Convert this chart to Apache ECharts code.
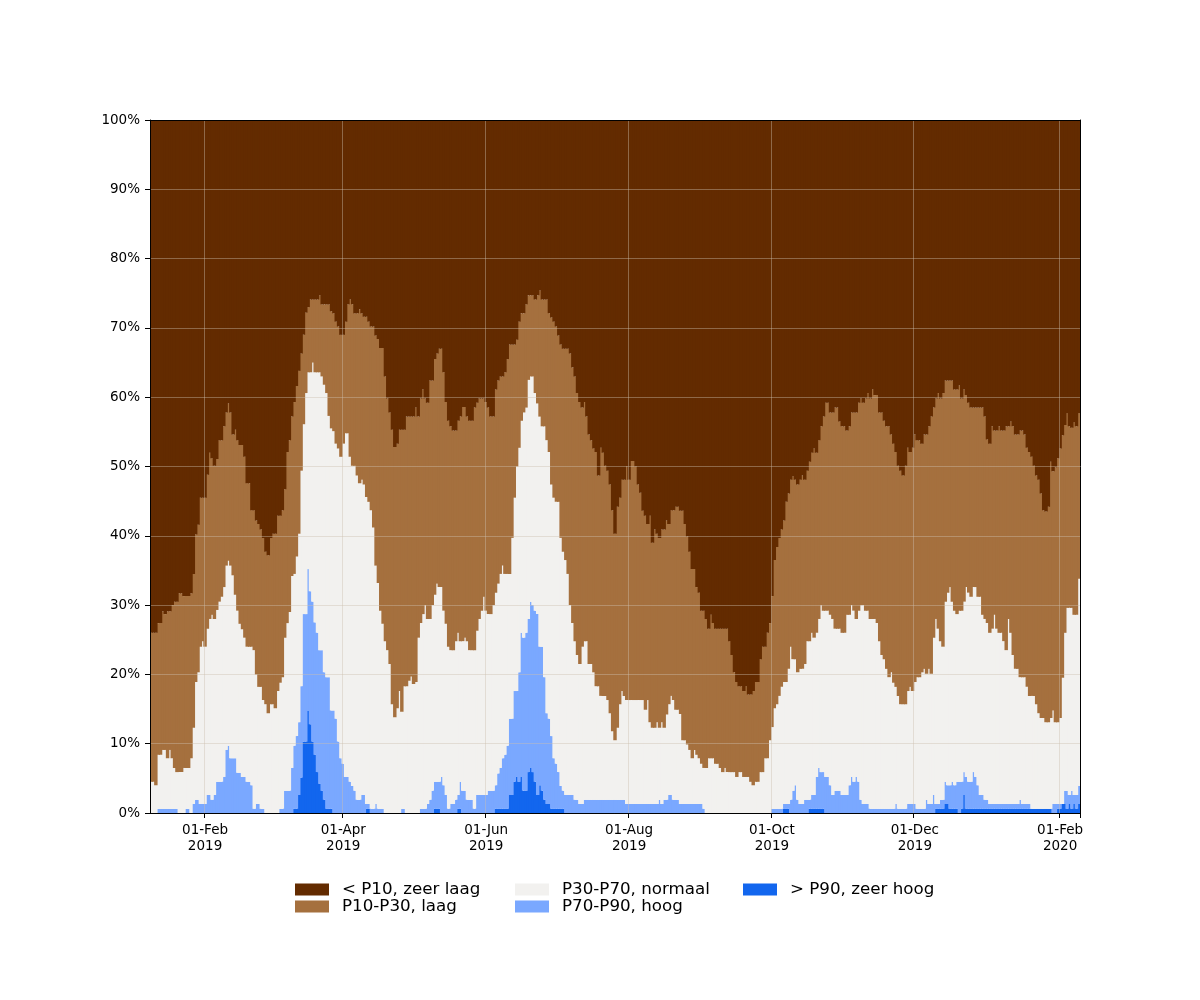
<!DOCTYPE html>
<html>
<head>
<meta charset="utf-8">
<script src="https://cdn.jsdelivr.net/npm/echarts@6/dist/echarts.min.js"></script>
<style>
html,body{margin:0;padding:0;background:#ffffff;}
#chart{width:1200px;height:1000px;}
</style>
</head>
<body>
<div id="chart"></div>
<script>
// ---- data -------------------------------------------------------------
const startDate = '2019-01-09';               // first day shown
const tickMonths = [2, 4, 6, 8, 10, 12];      // 1st of these months gets a tick label
const monthNames = ['Jan','Feb','Mar','Apr','May','Jun','Jul','Aug','Sep','Oct','Nov','Dec'];
const yTickValues = [0,10,20,30,40,50,60,70,80,90,100];

const classNames = ['< P10, zeer laag','P10-P30, laag','P30-P70, normaal','P70-P90, hoog','> P90, zeer hoog'];
const classColors = ['#632B00','#A5703E','#F2F1EF','#7AA8FF','#1266EE'];

// share of stations (%) at or above P10
const atLeastP10 = [
26.0,26.0,26.0,27.4,27.4,29.1,28.7,29.1,29.1,30.0,
30.5,30.5,31.7,31.7,31.3,31.3,31.3,31.7,34.5,40.2,
41.6,45.5,45.5,45.5,48.8,52.0,51.2,50.1,51.1,53.8,
53.8,55.8,57.8,59.1,57.8,54.6,55.3,53.8,53.1,53.1,
51.4,47.6,47.6,43.7,43.7,42.2,41.7,40.9,39.7,37.7,
37.2,39.7,40.3,40.3,42.9,42.9,43.7,46.7,52.1,53.8,
57.2,59.3,61.6,63.8,66.3,69.0,72.2,73.0,74.1,74.1,
74.1,74.1,74.7,73.4,73.4,73.4,73.4,72.4,72.1,70.9,
70.2,69.0,69.0,70.9,73.4,74.1,73.4,72.1,72.1,72.7,
72.1,71.6,71.6,70.9,70.2,70.2,68.9,68.4,67.1,67.1,
63.0,59.8,57.8,55.3,52.8,53.3,55.3,55.3,55.3,57.2,
57.2,57.2,57.2,58.5,57.2,59.8,61.1,59.8,59.2,62.4,
62.4,65.5,66.3,67.0,67.0,63.6,59.3,56.6,55.8,55.2,
55.2,56.6,57.2,58.6,58.6,57.2,56.6,56.6,58.5,59.2,
59.8,59.8,59.8,59.3,58.5,57.2,57.2,61.1,62.4,63.0,
63.0,63.6,65.5,67.6,67.6,67.6,68.3,70.9,72.1,72.1,
73.4,74.7,74.7,74.7,74.1,74.7,75.4,74.1,74.1,74.1,
72.1,71.5,70.9,70.2,68.9,67.6,67.0,67.0,67.0,66.3,
64.3,63.0,60.6,59.3,58.5,59.3,57.2,54.6,53.8,52.6,
52.1,48.7,52.7,52.0,50.1,49.4,47.4,43.7,40.3,44.2,
45.5,48.1,48.1,50.0,48.1,50.8,50.8,50.0,47.4,46.2,
43.6,42.9,41.7,42.9,39.0,40.9,40.3,39.7,40.9,40.9,
42.2,41.7,43.7,43.7,44.2,44.2,43.6,43.6,41.7,39.9,
37.7,35.2,35.2,32.6,31.8,29.2,29.2,28.0,26.6,28.6,
27.4,26.6,26.6,26.6,26.6,26.6,26.6,24.8,22.8,20.3,
18.9,18.3,18.3,17.6,18.3,17.1,17.1,17.6,18.9,18.9,
22.2,24.0,24.0,26.0,27.4,31.3,36.5,38.4,39.7,40.9,
42.2,44.9,46.1,48.1,48.6,48.1,47.4,48.1,48.7,48.1,
49.4,50.7,52.0,52.6,52.0,53.8,55.8,57.2,59.2,59.2,
57.8,57.8,58.5,58.5,56.5,55.8,55.8,55.2,55.8,57.8,
57.8,57.8,59.2,59.8,59.2,59.8,60.6,59.8,61.1,60.3,
60.3,57.8,57.8,56.6,55.8,55.8,54.6,53.3,52.1,50.1,
49.4,48.7,50.1,52.7,52.1,52.7,54.6,53.8,53.8,53.3,
54.6,54.6,55.8,57.2,58.5,59.8,60.6,59.8,60.6,62.4,
62.4,62.4,62.4,61.1,61.1,61.7,59.8,61.1,60.3,59.2,
58.5,58.5,58.5,58.5,58.5,58.5,57.2,53.9,53.3,55.8,
55.2,55.2,55.8,55.2,55.2,55.8,55.8,56.5,55.8,54.6,
54.6,55.2,55.2,54.6,52.7,52.1,51.4,50.1,48.7,48.1,
46.1,43.7,43.5,44.2,50.7,49.3,49.9,51.2,52.6,54.5,
56.0,57.7,55.8,55.6,56.4,55.8,57.7
];

// share of stations (%) at or above P30
const atLeastP30 = [
4.5,4.5,4.0,8.4,8.4,9.1,9.1,7.9,9.1,7.9,
6.5,5.9,5.9,5.9,6.5,6.5,6.5,7.9,12.3,18.9,
20.3,24.0,24.8,24.0,26.6,28.0,28.6,28.0,29.3,30.5,
31.2,32.6,35.7,36.4,35.7,34.3,31.5,29.2,27.3,26.5,
25.3,24.0,24.0,24.0,23.5,20.0,18.2,18.2,16.3,15.7,
14.4,15.7,15.7,15.1,17.6,18.8,19.6,25.3,27.4,29.0,
34.2,34.5,37.0,40.3,49.4,56.1,60.6,63.6,63.6,65.0,
63.6,63.6,63.6,63.0,61.8,60.6,57.3,55.5,55.1,53.3,
52.6,51.4,53.3,54.8,54.8,51.4,50.1,50.1,48.7,47.6,
48.1,47.4,45.6,44.9,43.7,41.2,35.7,33.2,29.2,27.3,
24.8,23.5,21.5,15.7,13.8,15.1,17.6,14.6,18.3,18.3,
19.1,19.7,18.6,18.9,25.3,27.4,28.7,30.0,28.0,28.0,
30.0,31.5,33.1,32.6,32.6,29.2,27.3,24.0,23.5,23.5,
24.8,26.0,24.8,24.8,25.3,24.8,23.5,23.5,23.5,26.3,
28.0,29.2,31.2,29.2,28.7,28.7,30.0,31.8,33.1,34.5,
35.7,34.5,34.5,34.5,39.7,45.5,50.0,52.7,56.6,57.8,
58.5,62.5,63.0,63.0,60.6,59.1,57.2,55.8,55.8,53.8,
52.1,47.4,45.5,44.9,44.9,39.7,37.7,36.5,34.5,30.0,
27.4,24.8,22.8,21.5,24.0,24.8,24.8,21.5,21.5,20.3,
18.3,18.3,16.9,16.9,16.9,16.3,14.4,11.8,10.5,12.3,
15.7,17.6,16.9,16.3,16.3,16.3,16.3,16.3,16.3,16.3,
16.3,14.9,16.3,13.1,12.3,12.3,13.1,12.3,13.1,12.3,
14.2,15.7,16.9,16.3,14.9,14.9,14.3,10.5,10.5,9.9,
9.1,7.9,9.1,8.4,7.9,7.1,6.5,6.5,7.9,7.9,
7.9,7.1,7.1,6.5,5.9,6.5,5.9,5.9,5.9,5.9,
5.2,5.9,5.9,5.2,5.2,5.2,4.5,4.0,4.5,4.5,
5.9,5.9,7.9,7.9,10.5,12.4,15.1,15.7,16.9,18.2,
18.9,18.9,20.8,24.0,22.2,22.2,20.3,20.8,20.8,21.5,
24.8,24.8,26.0,25.3,26.0,28.0,30.0,29.2,29.2,29.2,
28.6,28.0,26.6,26.6,26.6,26.0,26.0,28.6,28.6,30.0,
29.2,28.0,29.2,30.0,30.0,29.2,29.2,28.0,28.0,28.0,
27.4,24.8,22.8,22.2,20.8,19.6,20.3,18.8,18.2,16.9,
15.7,15.7,15.7,17.6,18.2,17.6,18.9,19.6,19.6,20.3,
20.8,20.1,20.8,20.1,25.3,28.0,26.6,24.8,24.0,30.5,
31.8,32.6,30.5,29.2,28.7,29.2,29.2,30.5,32.6,31.8,
31.2,32.6,32.6,31.2,31.2,28.6,28.0,27.4,26.0,26.6,
28.6,26.6,26.0,26.0,24.8,23.5,28.0,26.0,22.8,20.8,
20.8,19.6,19.6,19.6,18.2,16.9,16.9,16.9,15.7,14.4,
13.7,13.7,13.1,13.1,13.7,14.8,13.1,13.1,13.7,19.5,
26.0,29.6,29.6,29.6,28.6,28.6,33.8
];

// share of stations (%) at or above P70
const atLeastP70 = [
0,0,0,0.6,0.6,0.6,0.6,0.6,0.6,0.6,
0.6,0.6,0,0,0,0.6,0.6,0,1.3,1.9,
1.9,1.3,1.3,1.3,2.6,2.6,1.9,2.6,4.5,4.5,
4.5,5.2,9.1,9.7,7.9,7.9,7.9,5.8,5.8,5.2,
5.2,4.5,4.5,4.0,0.6,1.3,1.3,0.6,0.6,0,
0,0,0,0,0,0.6,0.6,3.2,3.2,3.2,
6.5,9.7,11.1,13.1,18.3,28.7,28.7,35.2,32.0,30.5,
27.5,26.0,23.5,23.5,20.3,19.6,19.6,14.8,14.8,13.6,
10.3,7.9,7.1,5.2,5.2,4.5,3.9,3.2,1.9,1.9,
2.6,2.6,1.3,1.3,0.6,0.6,1.3,0.6,0.6,0.6,
0,0,0,0,0,0,0,0.6,0.6,0,
0,0,0,0,0,0.6,0.6,0.6,1.3,1.9,
3.2,4.5,4.5,4.5,5.2,4.0,2.6,0.6,1.3,1.3,
1.9,2.6,4.5,3.2,3.2,1.9,1.9,1.9,0.6,2.6,
2.6,2.6,2.6,2.6,3.2,3.2,3.2,4.0,5.7,6.5,
7.9,8.4,9.7,13.6,13.6,17.6,17.6,20.3,26.0,25.3,
26.0,28.0,30.5,30.0,29.2,28.7,24.0,24.0,19.6,14.4,
13.6,11.1,7.9,7.1,5.9,3.9,3.2,2.6,2.6,2.6,
2.6,1.9,1.9,1.3,1.3,1.9,1.9,1.9,1.9,1.9,
1.9,1.9,1.9,1.9,1.9,1.9,1.9,1.9,1.9,1.9,
1.9,1.9,1.9,1.3,1.3,1.3,1.3,1.3,1.3,1.3,
1.3,1.3,1.3,1.3,1.3,1.3,1.3,1.9,1.3,1.9,
1.9,2.6,2.6,1.9,1.9,1.9,1.3,1.3,1.3,1.3,
1.3,1.3,1.3,1.3,1.3,1.3,0.6,0,0,0,
0,0,0,0,0,0,0,0,0,0,
0,0,0,0,0,0,0,0,0,0,
0,0,0,0,0,0.6,0.6,0.6,0.6,0.6,
1.3,1.3,1.3,1.9,3.2,4.0,1.9,1.3,1.3,1.9,
1.9,1.9,2.6,2.6,5.2,6.5,5.9,5.9,5.2,5.2,
4.0,2.6,3.2,3.2,3.2,2.6,2.6,2.6,4.0,5.2,
4.5,5.2,4.5,1.9,1.3,1.3,1.3,0.6,0.6,0.6,
0.6,0.6,0.6,0.6,0.6,0.6,0.6,0.6,1.3,0.6,
0.6,0.6,0.6,1.3,1.3,1.3,1.3,0.6,0.6,0.6,
0.6,1.9,1.3,1.3,2.6,1.3,1.3,1.9,1.9,4.5,
4.0,4.0,4.5,4.0,4.5,4.5,4.5,5.9,5.2,4.5,
4.5,5.9,5.2,4.0,2.6,2.6,1.9,1.9,1.3,1.3,
1.3,1.3,1.3,1.3,1.3,1.3,1.3,1.3,1.3,1.3,
1.3,1.9,1.3,1.3,1.3,1.3,0.6,0.6,0.6,0.6,
0.6,0.6,0.6,0.6,0.6,1.3,1.3,1.3,1.3,1.3,
3.2,3.2,2.6,3.2,2.6,2.6,3.9
];

// share of stations (%) above P90
const aboveP90 = [
0,0,0,0,0,0,0,0,0,0,
0,0,0,0,0,0,0,0,0,0,
0,0,0,0,0,0,0,0,0,0,
0,0,0,0,0,0,0,0,0,0,
0,0,0,0,0,0,0,0,0,0,
0,0,0,0,0,0,0,0,0,0,
0,0.6,0.6,2.6,5.1,10.3,10.3,14.8,12.8,10.3,
8.4,5.9,4.2,3.2,1.9,0.6,0.6,0.6,0,0,
0,0,0,0,0,0,0,0,0,0,
0,0,0.6,0.6,0,0,0,0,0,0,
0,0,0,0,0,0,0,0,0,0,
0,0,0,0,0,0,0,0,0,0,
0,0.6,0.6,0.6,0,0,0,0,0,0,
0,0.6,0.6,0,0,0,0,0,0,0,
0,0,0,0,0,0,0,0.6,0.6,0.6,
0.6,0.6,0.6,2.6,2.6,4.5,5.2,4.5,5.2,3.2,
3.2,5.9,6.5,5.9,4.5,2.6,4.0,3.2,1.9,1.3,
1.3,0.6,0.6,0.6,0.6,0.6,0.6,0,0,0,
0,0,0,0,0,0,0,0,0,0,
0,0,0,0,0,0,0,0,0,0,
0,0,0,0,0,0,0,0,0,0,
0,0,0,0,0,0,0,0,0,0,
0,0,0,0,0,0,0,0,0,0,
0,0,0,0,0,0,0,0,0,0,
0,0,0,0,0,0,0,0,0,0,
0,0,0,0,0,0,0,0,0,0,
0,0,0,0,0,0,0,0,0,0,
0.6,0.6,0.6,0,0,0,0,0,0,0,
0,0.6,0.6,0.6,0.6,0.6,0.6,0.6,0,0,
0,0,0,0,0,0,0,0,0,0,
0,0,0,0,0,0,0,0,0,0,
0,0,0,0,0,0,0,0,0,0,
0,0,0,0,0,0,0,0,0,0,
0,0,0,0,0,0.6,0.6,0.6,0.6,1.3,
1.3,0.6,0.6,0.6,0.6,0,0.6,2.6,0.6,0.6,
0.6,0.6,0.6,0.6,0.6,0.6,0.6,0.6,0.6,0.6,
0.6,0.6,0.6,0.6,0.6,0.6,0.6,0.6,0.6,0.6,
0.6,0.6,0.6,0.6,0.6,0.6,0.6,0.6,0.6,0.6,
0.6,0.6,0.6,0.6,0.6,0,0,0.6,0.6,1.3,
1.3,0.6,1.3,0.6,1.3,0.6,1.3
];

// ---- categories (one per day) ----------------------------------------
const categories = [];
(function () {
  const p = startDate.split('-').map(Number);
  const t0 = Date.UTC(p[0], p[1] - 1, p[2]);
  for (let i = 0; i < atLeastP10.length; i++) {
    categories.push(new Date(t0 + i * 86400000).toISOString().slice(0, 10));
  }
})();

function isTickDay(index, value) {
  const v = value || categories[index];
  const parts = v.split('-');
  return parts[2] === '01' && tickMonths.indexOf(Number(parts[1])) >= 0;
}
function tickLabel(value) {
  const parts = value.split('-');
  return parts[2] + '-' + monthNames[Number(parts[1]) - 1] + '\n' + parts[0];
}

// ---- band values for the stacked series ------------------------------
const r1 = v => Math.round(v * 10) / 10;
const nz = v => (v > 0 ? v : null);
const bandP90 = aboveP90.map(v => nz(r1(v)));
const bandP70 = atLeastP70.map((v, i) => nz(r1(v - aboveP90[i])));
const bandP30 = atLeastP30.map((v, i) => nz(r1(v - atLeastP70[i])));
const bandP10 = atLeastP10.map((v, i) => nz(r1(v - atLeastP30[i])));
const bandLow = atLeastP10.map(v => nz(r1(100 - v)));

const bandsBottomUp = [
  {name: classNames[4], color: classColors[4], data: bandP90},
  {name: classNames[3], color: classColors[3], data: bandP70},
  {name: classNames[2], color: classColors[2], data: bandP30},
  {name: classNames[1], color: classColors[1], data: bandP10},
  {name: classNames[0], color: classColors[0], data: bandLow}
];

const FONT = 'DejaVu Sans';
const gridLineColor = 'rgba(205,190,175,0.42)';

const GRID_W = 930;
// bars are made slightly wider than a day so neighbouring days overlap (no hairline seams)
const barPx = GRID_W / categories.length + 1.1;

const series = bandsBottomUp.map(b => ({
  name: b.name,
  type: 'bar',
  stack: 'share',
  data: b.data,
  barWidth: barPx,
  itemStyle: {color: b.color},
  emphasis: {disabled: true},
  xAxisIndex: 0,
  yAxisIndex: 0
}));

const legendBase = {
  orient: 'vertical',
  top: 881,
  padding: 0,
  itemWidth: 34,
  itemHeight: 12,
  itemGap: 0,
  icon: 'rect',
  selectedMode: false,
  textStyle: {fontFamily: FONT, fontSize: 16.7, color: '#000', lineHeight: 15, padding: [0, 0, 0, 8]}
};

const option = {
  animation: false,
  backgroundColor: '#ffffff',
  grid: {left: 150, top: 120, width: GRID_W, height: 693, containLabel: false},
  legend: [
    Object.assign({}, legendBase, {left: 295, data: [classNames[0], classNames[1]]}),
    Object.assign({}, legendBase, {left: 515, data: [classNames[2], classNames[3]]}),
    Object.assign({}, legendBase, {left: 743, data: [classNames[4]]})
  ],
  xAxis: [
    {
      type: 'category', data: categories, boundaryGap: true, position: 'bottom', z: 11,
      axisLine: {show: true, onZero: false, lineStyle: {color: '#000', width: 1}},
      axisTick: {show: true, inside: false, length: 5, interval: isTickDay, lineStyle: {color: '#000', width: 1}},
      axisLabel: {show: true, interval: isTickDay, formatter: tickLabel, color: '#000',
                  fontFamily: FONT, fontSize: 13.5, lineHeight: 16.5, margin: 9},
      splitLine: {show: true, interval: isTickDay, lineStyle: {color: gridLineColor, width: 1}}
    },
    {
      type: 'category', data: categories, boundaryGap: true, position: 'top', z: 11,
      axisLine: {show: true, onZero: false, lineStyle: {color: '#000', width: 1}},
      axisTick: {show: false}, axisLabel: {show: false}, splitLine: {show: false}
    }
  ],
  yAxis: [
    {
      type: 'value', min: yTickValues[0], max: yTickValues[yTickValues.length - 1],
      interval: yTickValues[1] - yTickValues[0], position: 'left', z: 10,
      axisLine: {show: true, lineStyle: {color: '#000', width: 1}},
      axisTick: {show: true, inside: false, length: 5, lineStyle: {color: '#000', width: 1}},
      axisLabel: {formatter: '{value}%', color: '#000', fontFamily: FONT, fontSize: 13.5, margin: 10},
      splitLine: {show: true, lineStyle: {color: gridLineColor, width: 1}}
    },
    {
      type: 'value', min: 0, max: 100, position: 'right', z: 11,
      axisLine: {show: true, lineStyle: {color: '#000', width: 1}},
      axisTick: {show: false}, axisLabel: {show: false}, splitLine: {show: false}
    }
  ],
  series: series
};

const chart = echarts.init(document.getElementById('chart'), null, {renderer: 'canvas', width: 1200, height: 1000});
chart.setOption(option);
</script>
</body>
</html>
